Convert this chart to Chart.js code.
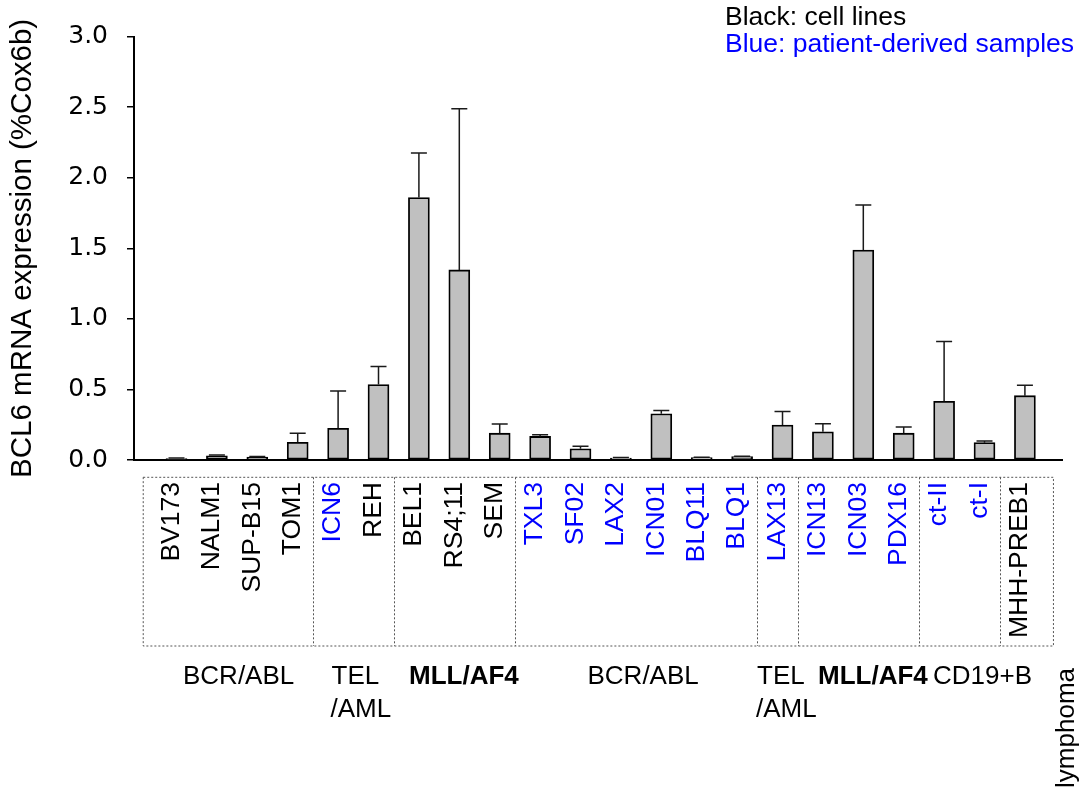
<!DOCTYPE html>
<html>
<head>
<meta charset="utf-8">
<script src="https://cdn.jsdelivr.net/npm/chart.js@4/dist/chart.umd.min.js"></script>
<style>
  html, body { margin: 0; padding: 0; background: #ffffff; }
  #wrap { width: 1087px; height: 791px; }
</style>
</head>
<body>
<div id="wrap"><canvas id="chart" width="1087" height="791"></canvas></div>
<script>
// Sample names, in plotting order
const samples = ['BV173', 'NALM1', 'SUP-B15', 'TOM1', 'ICN6', 'REH', 'BEL1', 'RS4;11', 'SEM',
  'TXL3', 'SF02', 'LAX2', 'ICN01', 'BLQ11', 'BLQ1', 'LAX13', 'ICN13', 'ICN03', 'PDX16',
  'ct-II', 'ct-I', 'MHH-PREB1'];

// Mean BCL6 mRNA expression (% of Cox6b)
const expression = [0.010, 0.030, 0.020, 0.125, 0.225, 0.535, 1.860, 1.347, 0.190,
  0.167, 0.080, 0.014, 0.328, 0.017, 0.024, 0.248, 0.200, 1.488, 0.190,
  0.416, 0.123, 0.456];

// Upper error (SD)
const errorUp = [0.004, 0.006, 0.004, 0.064, 0.264, 0.127, 0.316, 1.142, 0.066,
  0.012, 0.017, 0.003, 0.022, 0.003, 0.003, 0.095, 0.057, 0.320, 0.044,
  0.423, 0.012, 0.073];

// true = patient-derived sample (blue label), false = cell line (black label)
const patientDerived = [false, false, false, false, true, false, false, false, false,
  true, true, true, true, true, true, true, true, true, true,
  true, true, false];

const yTicks = [0, 0.5, 1.0, 1.5, 2.0, 2.5, 3.0];

// Subtype groups: first and last sample index of each group
const groupStart = [0, 4, 6, 9, 15, 16, 19, 21];
const groupEnd   = [3, 5, 8, 14, 15, 18, 20, 21];

const FONT = "'Liberation Sans', Arial, Helvetica, sans-serif";
const BLUE = '#0000ff';
const LABEL_SHIFT = -5;

// Upward error bars with caps
const errorBars = {
  id: 'errorBars',
  afterDatasetsDraw(chart) {
    const ctx = chart.ctx;
    const y = chart.scales.y;
    const meta = chart.getDatasetMeta(0);
    ctx.save();
    ctx.strokeStyle = '#1a1a1a';
    ctx.lineWidth = 1.5;
    meta.data.forEach((bar, i) => {
      if (!errorUp[i]) return;
      const y0 = y.getPixelForValue(expression[i]);
      const y1 = y.getPixelForValue(expression[i] + errorUp[i]);
      ctx.beginPath();
      ctx.moveTo(bar.x, y0);
      ctx.lineTo(bar.x, y1);
      ctx.moveTo(bar.x - 8, y1);
      ctx.lineTo(bar.x + 8, y1);
      ctx.stroke();
    });
    ctx.restore();
  }
};

// Dotted frame around the sample names, split by subtype, plus group captions and key
const groupFrames = {
  id: 'groupFrames',
  afterDraw(chart) {
    const ctx = chart.ctx;
    const x = chart.scales.x;
    const base = chart.chartArea.bottom;
    const px = v => x.getPixelForValue(v) + LABEL_SHIFT;
    const top = base + 17.3, bottom = base + 186;
    const left = px(-0.7), right = px(samples.length - 1 + 0.83);

    ctx.save();
    ctx.strokeStyle = '#555555';
    ctx.lineWidth = 1;
    ctx.setLineDash([2, 2]);
    ctx.strokeRect(left, top, right - left, bottom - top);
    for (let g = 0; g < groupEnd.length - 1; g++) {
      const sx = Math.round((px(groupEnd[g]) + px(groupStart[g + 1])) / 2) + 0.5;
      ctx.beginPath();
      ctx.moveTo(sx, top);
      ctx.lineTo(sx, bottom);
      ctx.stroke();
    }
    ctx.setLineDash([]);

    // group captions
    ctx.fillStyle = '#000';
    ctx.textBaseline = 'alphabetic';
    ctx.textAlign = 'left';
    const line1 = base + 224, line2 = base + 256.7;
    const normal = `26px ${FONT}`, bold = `bold 26px ${FONT}`;
    const caption = (text, cx, cy, f) => { ctx.font = f; ctx.fillText(text, cx, cy); };
    caption('BCR/ABL', 183, line1, normal);
    caption('TEL', 331.5, line1, normal);
    caption('/AML', 330.5, line2, normal);
    caption('MLL/AF4', 409, line1, bold);
    caption('BCR/ABL', 587.5, line1, normal);
    caption('TEL', 757, line1, normal);
    caption('/AML', 756, line2, normal);
    caption('MLL/AF4', 818, line1, bold);
    caption('CD19+B', 933, line1, normal);
    ctx.save();
    ctx.translate(1074, base + 208);
    ctx.rotate(-Math.PI / 2);
    ctx.textAlign = 'right';
    ctx.font = normal;
    ctx.fillText('lymphoma', 0, 0);
    ctx.restore();

    // colour key
    ctx.font = `26.5px ${FONT}`;
    ctx.fillStyle = '#000';
    ctx.fillText('Black: cell lines', 725, 25);
    ctx.fillStyle = BLUE;
    ctx.fillText('Blue: patient-derived samples', 725, 51.7);
    ctx.restore();
  }
};

new Chart(document.getElementById('chart'), {
  type: 'bar',
  data: {
    labels: samples,
    datasets: [{
      data: expression,
      backgroundColor: '#c0c0c0',
      borderColor: '#000000',
      borderWidth: 1.8,
      borderSkipped: false,
      barThickness: 21
    }]
  },
  options: {
    responsive: false,
    animation: false,
    devicePixelRatio: 1,
    layout: { padding: { left: 0, right: 25, top: 36.7, bottom: 0 } },
    plugins: { legend: { display: false }, tooltip: { enabled: false } },
    scales: {
      x: {
        type: 'category',
        offset: true,
        afterBuildTicks: s => {
          // leave extra room on both sides of the category band
          s._startValue = -1.052;
          s._valueRange = samples.length + 0.97;
        },
        afterFit: s => { s.height = 331; },
        grid: { display: false, drawTicks: false },
        border: { display: true, color: '#000', width: 2 },
        ticks: {
          autoSkip: false,
          minRotation: 90,
          maxRotation: 90,
          padding: 22,
          labelOffset: LABEL_SHIFT,
          font: { family: FONT, size: 26.5 },
          color: c => patientDerived[c.index] ? BLUE : '#000'
        }
      },
      y: {
        min: 0,
        max: 3,
        afterBuildTicks: s => { s.ticks = yTicks.map(v => ({ value: v })); },
        afterFit: s => { s.width = 134; },
        grid: { display: true, drawOnChartArea: false, drawTicks: true, tickLength: 7, color: '#000', lineWidth: 1.5 },
        border: { display: true, color: '#000', width: 2 },
        ticks: {
          padding: 19,
          color: '#000',
          font: { family: "'DejaVu Sans', sans-serif", size: 25 },
          callback: v => Number(v).toFixed(1)
        },
        title: {
          display: true,
          text: 'BCL6 mRNA expression (%Cox6b)',
          color: '#000',
          font: { family: FONT, size: 29.5 },
          padding: { top: 5, bottom: 0 }
        }
      }
    }
  },
  plugins: [errorBars, groupFrames]
});
</script>
</body>
</html>
